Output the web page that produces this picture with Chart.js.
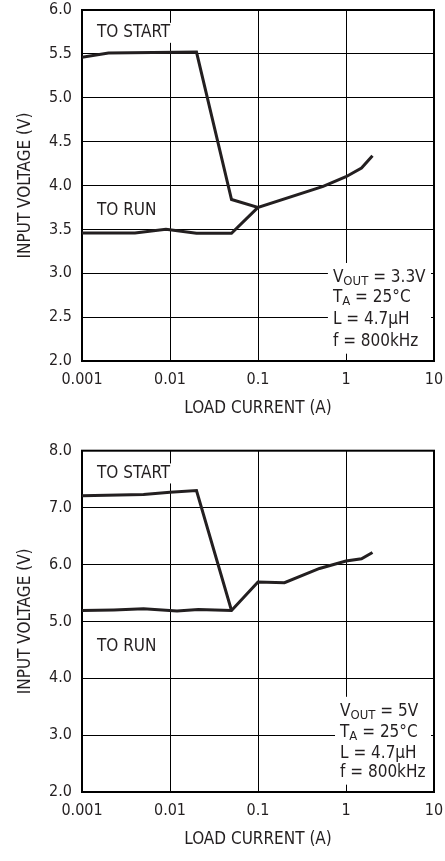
<!DOCTYPE html>
<html>
<head>
<meta charset="utf-8">
<script src="https://cdn.jsdelivr.net/npm/chart.js@4.4.0/dist/chart.umd.min.js"></script>
<style>
  html, body { margin: 0; padding: 0; background: #fff; }
  canvas { display: block; }
</style>
</head>
<body>
<canvas id="c1" width="445" height="430"></canvas>
<canvas id="c2" width="445" height="431"></canvas>
<script>
// ---------- DATA ----------
const xTickValues = [0.001, 0.01, 0.1, 1, 10];

// Chart 1: VOUT = 3.3V
const start1X = [0.001, 0.002, 0.02, 0.05, 0.1, 0.55, 1, 1.5, 2];
const start1Y = [5.46, 5.51, 5.52, 3.84, 3.75, 3.99, 4.10, 4.20, 4.34];
const run1X   = [0.001, 0.004, 0.009, 0.02, 0.05, 0.1];
const run1Y   = [3.46, 3.46, 3.50, 3.455, 3.455, 3.75];
const y1Ticks = [2.0, 2.5, 3.0, 3.5, 4.0, 4.5, 5.0, 5.5, 6.0];

// Chart 2: VOUT = 5V
const start2X = [0.001, 0.005, 0.01, 0.02, 0.05];
const start2Y = [7.21, 7.23, 7.27, 7.30, 5.19];
const run2X   = [0.001, 0.0023, 0.005, 0.012, 0.021, 0.05, 0.1, 0.2, 0.5, 1, 1.5, 2];
const run2Y   = [5.19, 5.20, 5.22, 5.18, 5.21, 5.19, 5.69, 5.68, 5.93, 6.06, 6.10, 6.21];
const y2Ticks = [2.0, 3.0, 4.0, 5.0, 6.0, 7.0, 8.0];

const xTitle = 'LOAD CURRENT (A)';
const yTitle = 'INPUT VOLTAGE (V)';

const cond1 = [
  [{t:'V'},{t:'OUT',sub:true},{t:' = 3.3V'}],
  [{t:'T'},{t:'A',sub:true},{t:' = 25°C'}],
  [{t:'L = 4.7µH'}],
  [{t:'f = 800kHz'}]
];
const cond2 = [
  [{t:'V'},{t:'OUT',sub:true},{t:' = 5V'}],
  [{t:'T'},{t:'A',sub:true},{t:' = 25°C'}],
  [{t:'L = 4.7µH'}],
  [{t:'f = 800kHz'}]
];

// ---------- STYLE ----------
const FONT = "'Liberation Sans Narrow', 'DejaVu Sans Condensed', 'Arial Narrow', sans-serif";
const INK = '#231f20';

function pts(xs, ys) { return xs.map((x, i) => ({x: x, y: ys[i]})); }

const annotPlugin = {
  id: 'annot',
  beforeDatasetsDraw(chart) {
    const o = chart.options.plugins.annot;
    const ctx = chart.ctx;
    const xs = chart.scales.x, ys = chart.scales.y;
    const ca = chart.chartArea;
    ctx.save();
    // conditions box background
    const bx = xs.getPixelForValue(o.cond.x);
    const lineYs = o.cond.ys.map(v => ys.getPixelForValue(v));
    ctx.fillStyle = '#fff';
    ctx.fillRect(bx - 5, lineYs[0] - 15, ca.right - 3 - (bx - 5), lineYs[lineYs.length-1] + 12 - (lineYs[0] - 15));
    // frame
    ctx.strokeStyle = '#000';
    ctx.lineWidth = 2;
    ctx.strokeRect(ca.left, ca.top, ca.right - ca.left, ca.bottom - ca.top);
    // labels
    ctx.textBaseline = 'middle';
    ctx.textAlign = 'left';
    ctx.font = '17px ' + FONT;
    o.labels.forEach(l => {
      const px = xs.getPixelForValue(l.x), py = ys.getPixelForValue(l.y);
      const w = ctx.measureText(l.text).width;
      ctx.fillStyle = '#fff';
      ctx.fillRect(px - 1, py - 10, w + 2, 20);
      ctx.fillStyle = INK;
      ctx.fillText(l.text, px, py);
    });
    // conditions text
    ctx.fillStyle = INK;
    o.cond.lines.forEach((segs, i) => {
      let x = bx;
      const y = lineYs[i];
      segs.forEach(s => {
        if (s.sub) {
          ctx.font = '13px ' + FONT;
          ctx.fillText(s.t, x, y + 4);
        } else {
          ctx.font = '17px ' + FONT;
          ctx.fillText(s.t, x, y);
        }
        x += ctx.measureText(s.t).width;
      });
    });
    ctx.restore();
  }
};

function makeChart(id, startData, runData, yMin, yMax, yTicks, padTop, annot) {
  return new Chart(document.getElementById(id), {
    type: 'line',
    data: {
      datasets: [
        { label: 'TO START', data: startData },
        { label: 'TO RUN', data: runData }
      ]
    },
    options: {
      responsive: false,
      animation: false,
      events: [],
      layout: { padding: { left: 0, right: 11, top: padTop, bottom: 0 } },
      elements: {
        point: { radius: 0 },
        line: { borderColor: INK, borderWidth: 3, tension: 0, fill: false, borderJoinStyle: 'miter', borderCapStyle: 'butt' }
      },
      scales: {
        x: {
          type: 'logarithmic',
          min: 0.001, max: 10,
          afterBuildTicks: s => { s.ticks = xTickValues.map(v => ({value: v})); },
          afterFit: s => { s.height = 69; s.paddingLeft = 0; s.paddingRight = 0; },
          grid: { color: '#000', lineWidth: 1, drawTicks: false },
          border: { display: false },
          ticks: {
            color: INK, padding: 9, maxRotation: 0, autoSkip: false,
            font: { family: FONT, size: 16, lineHeight: 1.2 },
            callback: v => String(v)
          },
          title: {
            display: true, text: xTitle, color: INK,
            font: { family: FONT, size: 17, lineHeight: 1.2 },
            padding: { top: 0, bottom: 11 }
          }
        },
        y: {
          type: 'linear',
          min: yMin, max: yMax,
          afterBuildTicks: s => { s.ticks = yTicks.map(v => ({value: v})); },
          afterFit: s => { s.width = 82; s.paddingTop = 0; s.paddingBottom = 0; },
          grid: { color: '#000', lineWidth: 1, drawTicks: false },
          border: { display: false },
          ticks: {
            color: INK, padding: 10,
            font: { family: FONT, size: 16, lineHeight: 1.2 },
            callback: v => Number(v).toFixed(1)
          },
          title: {
            display: true, text: yTitle, color: INK,
            font: { family: FONT, size: 17, lineHeight: 1.2 },
            padding: { top: 15, bottom: 0 }
          }
        }
      },
      plugins: {
        legend: { display: false },
        tooltip: { enabled: false },
        annot: annot
      }
    },
    plugins: [annotPlugin]
  });
}

makeChart('c1', pts(start1X, start1Y), pts(run1X, run1Y), 2, 6, y1Ticks, 10, {
  labels: [
    { text: 'TO START', x: 0.00148, y: 5.74 },
    { text: 'TO RUN', x: 0.00148, y: 3.71 }
  ],
  cond: { x: 0.71, ys: [2.946, 2.72, 2.47, 2.22], lines: cond1 }
});

makeChart('c2', pts(start2X, start2Y), pts(run2X, run2Y), 2, 8, y2Ticks, 20.7, {
  labels: [
    { text: 'TO START', x: 0.00148, y: 7.60 },
    { text: 'TO RUN', x: 0.00148, y: 4.56 }
  ],
  cond: { x: 0.855, ys: [3.41, 3.04, 2.68, 2.34], lines: cond2 }
});
</script>
</body>
</html>
